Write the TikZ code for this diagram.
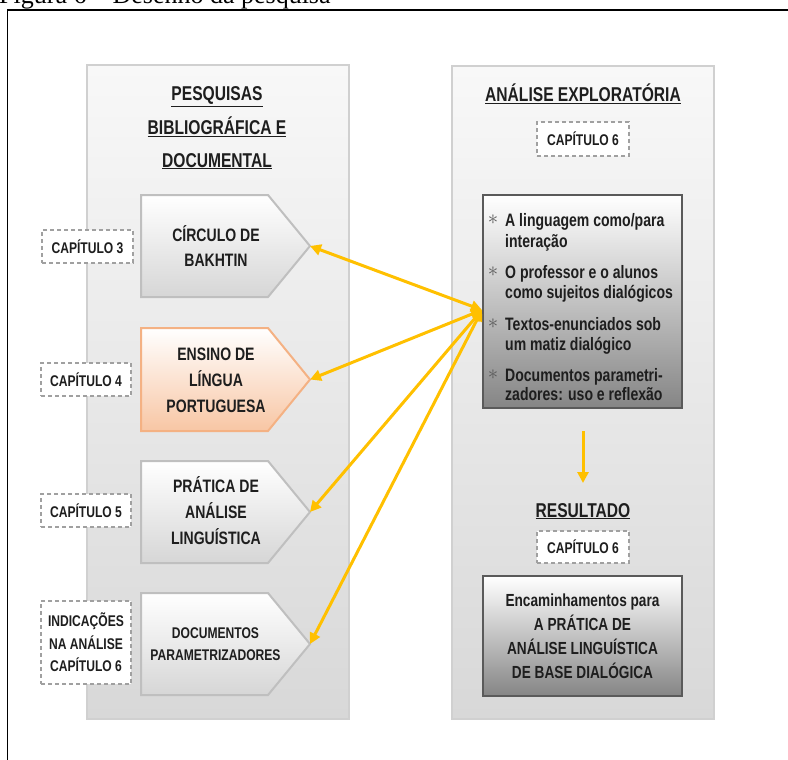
\documentclass[tikz,border=0pt]{standalone}
\usepackage{fontspec}
\setmainfont{Liberation Sans}[FakeStretch=0.78]
\newfontfamily\capfont{Liberation Serif}
\usetikzlibrary{arrows.meta}
\definecolor{txt}{HTML}{1E1E1E}
\definecolor{panelb}{HTML}{D0D0D0}
\definecolor{paneltop}{HTML}{F8F8F8}
\definecolor{panelbot}{HTML}{D8D8D8}
\definecolor{chevb}{HTML}{BFBFBF}
\definecolor{chevbot}{HTML}{D6D6D6}
\definecolor{orb}{HTML}{F4B183}
\definecolor{orbot}{HTML}{F8C6A4}
\definecolor{tagb}{HTML}{A0A0A0}
\definecolor{darkb}{HTML}{5A5A5A}
\definecolor{darkbot}{HTML}{858585}
\definecolor{arrc}{HTML}{FFC000}
\tikzset{
  panel/.style={draw=panelb, line width=1.5pt, top color=paneltop, bottom color=panelbot},
  chev/.style={draw=chevb, line width=2pt, top color=white, bottom color=chevbot},
  chevor/.style={draw=orb, line width=2pt, top color=white, bottom color=orbot},
  chevtext/.style={align=center, font=\fontsize{18}{25.5}\selectfont\bfseries},
  tag/.style={draw=tagb, fill=white, line width=1.2pt, dash pattern=on 4pt off 3pt,
    minimum width=90pt, minimum height=33pt, align=center,
    font=\fontsize{15.5}{22.5}\selectfont\bfseries},
  title/.style={anchor=base, font=\fontsize{20}{20}\selectfont\bfseries},
  darkbox/.style={draw=darkb, line width=2.5pt, top color=white, bottom color=darkbot,
    minimum width=199pt},
  btext/.style={anchor=base west, font=\fontsize{18}{18}\selectfont\bfseries},
  bstar/.style={text=darkb, font=\fontsize{20}{20}\selectfont},
  conn/.style={draw=arrc, line width=3pt,
    {Triangle[length=11pt,width=11pt]}-{Triangle[length=11pt,width=11pt]}},
  conn1/.style={draw=arrc, line width=3pt, -{Triangle[length=11pt,width=11pt]}}
}
\begin{document}
\begin{tikzpicture}[x=1pt,y=-1pt, every node/.style={inner sep=0pt, text=txt}]
\useasboundingbox (0,0) rectangle (788,760);
% caption (cut off at top, as in the reference)
\node[anchor=base west, font=\capfont\fontsize{26}{26}\selectfont, text=black] (caption) at (-1,3.5) {Figura 6 – Desenho da pesquisa};
% frame
\draw[line width=1.5pt] (7.5,760) -- (7.5,10) -- (788,10);
% panels
\path[panel] (87,65) rectangle (349,719);
\path[panel] (452,66) rectangle (714,719);
% left titles
\node[title] (tl1) at (217,101) {\underline{PESQUISAS}};
\node[title] (tl2) at (217,135) {\underline{BIBLIOGRÁFICA E}};
\node[title] (tl3) at (217,167) {\underline{DOCUMENTAL}};
% chevrons
\draw[chev] (141,195) -- (268,195) -- (310,246) -- (268,297) -- (141,297) -- cycle;
\coordinate (t1) at (310,246);
\node[chevtext] (c1) at (216,246) {CÍRCULO DE\\BAKHTIN};
\draw[chevor] (141,328) -- (268,328) -- (310,379.5) -- (268,431) -- (141,431) -- cycle;
\coordinate (t2) at (310,379.5);
\node[chevtext, font=\fontsize{18}{26}\selectfont\bfseries] (c2) at (216,380.5) {ENSINO DE\\LÍNGUA\\PORTUGUESA};
\draw[chev] (141,461) -- (268,461) -- (310,512) -- (268,563) -- (141,563) -- cycle;
\coordinate (t3) at (310,512);
\node[chevtext, font=\fontsize{18}{26}\selectfont\bfseries] (c3) at (216,511) {PRÁTICA DE\\ANÁLISE\\LINGUÍSTICA};
\draw[chev] (141,593) -- (268,593) -- (310,644) -- (268,695) -- (141,695) -- cycle;
\coordinate (t4) at (310,644);
\node[chevtext, font=\fontsize{15.5}{22}\selectfont\bfseries] (c4) at (215.5,644.5) {DOCUMENTOS\\PARAMETRIZADORES};
% chapter tags
\node[tag, minimum width=91pt] (cap3) at (87.5,246.5) {CAPÍTULO 3};
\node[tag] (cap4) at (86,379.5) {CAPÍTULO 4};
\node[tag] (cap5) at (86,510.5) {CAPÍTULO 5};
\node[tag, minimum height=83pt] (cap6a) at (86,642.5) {INDICAÇÕES\\NA ANÁLISE\\CAPÍTULO 6};
\node[tag, minimum width=92pt, minimum height=34pt] (cap6b) at (583,139) {CAPÍTULO 6};
\node[tag, minimum width=92pt, minimum height=32pt] (cap6c) at (583,547) {CAPÍTULO 6};
% right titles
\node[title] (tr1) at (583,101.5) {\underline{ANÁLISE EXPLORATÓRIA}};
\node[title] (tr2) at (583,517) {\underline{RESULTADO}};
% analysis box
\node[darkbox, minimum height=213pt] (ana) at (582.5,301.5) {};
\node[bstar] (s1) at (493,220) {$\ast$};
\node[btext] (b1a) at (505,226.5) {A linguagem como/para};
\node[btext] (b1b) at (505,247) {interação};
\node[bstar] (s2) at (493,271.5) {$\ast$};
\node[btext] (b2a) at (505,278) {O professor e o alunos};
\node[btext] (b2b) at (505,298.5) {como sujeitos dialógicos};
\node[bstar] (s3) at (493,323.5) {$\ast$};
\node[btext] (b3a) at (505,330) {Textos-enunciados sob};
\node[btext] (b3b) at (505,350) {um matiz dialógico};
\node[bstar] (s4) at (493,375) {$\ast$};
\node[btext] (b4a) at (505,381.5) {Documentos parametri-};
\node[btext] (b4b) at (505,400.5) {zadores: uso e reflexão};
% result box
\node[darkbox, minimum height=120pt] (res) at (582.5,636) {};
\node[align=center, font=\fontsize{17.5}{24}\selectfont\bfseries] (rest) at (582.5,636) {Encaminhamentos para\\A PRÁTICA DE\\ANÁLISE LINGUÍSTICA\\DE BASE DIALÓGICA};
% connectors
\coordinate (hub) at (482,310);
\draw[conn] (t1) -- (hub);
\draw[conn] (t2) -- (hub);
\draw[conn] (t3) -- (hub);
\draw[conn] (t4) -- (hub);
\coordinate (d1) at (583,431);
\coordinate (d2) at (583,483);
\draw[conn1] (d1) -- (d2);
\end{tikzpicture}
\end{document}
